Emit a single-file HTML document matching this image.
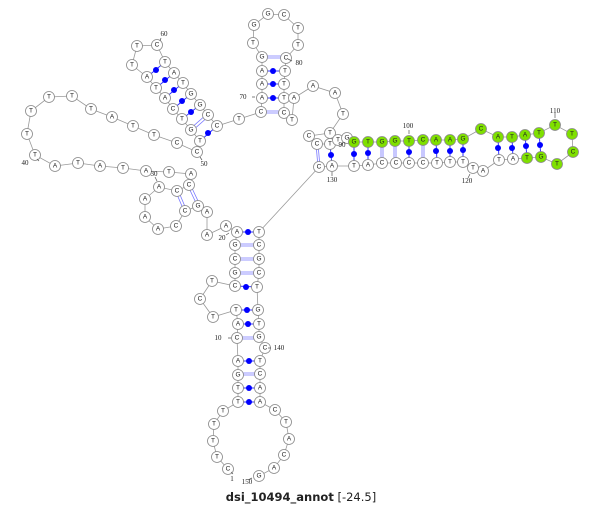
<!DOCTYPE html>
<html><head><meta charset="utf-8"><style>
html,body{margin:0;padding:0;background:#fff;}
svg{display:block}
.n{fill:#fff;stroke:#888;stroke-width:0.8}
.g{fill:#7fe000;stroke:#888;stroke-width:0.8}
text{font-family:"Liberation Sans","DejaVu Sans",sans-serif;font-size:6.5px;text-anchor:middle;dominant-baseline:central;fill:#222}
.l text{font-family:"Liberation Serif",serif;font-size:7px;fill:#222}
.p{stroke:#3333ff;stroke-width:1}
.d{stroke:#7777ff;stroke-width:0.8}
circle.n,circle.g{r:5.5px}
</style></head><body>
<svg width="600" height="508" viewBox="0 0 600 508" xmlns="http://www.w3.org/2000/svg">
<g fill="none" stroke="#999" stroke-width="0.8">
<polyline points="228,469 217,457 213,441 214,424 223,411 238,402 238,388 238,375 238,361 237,338 238,324 236,310 213,317 200,299 212,281 235,286 235,273 235,259 235,245 237,232 226,226 207,235 207,212 198,206 185,211 176,226 158,229 145,217 145,199 159,187 177,191 189,185 191,174 169,172 146,171 123,168 100,166 78,163 55,166 35,155 27,134 31,111 49,97 72,96 91,109 112,117 133,126 154,135 177,143 197,152 200,141 191,130 182,119 173,109 165,98 156,88 147,77 132,65 137,46 157,45 165,62 174,73 183,83 191,94 200,105 208,115 217,126 239,119 261,112 262,98 262,84 262,71 262,57 253,43 254,25 268,14 284,15 298,28 298,45 286,58 285,71 284,84 284,98 284,113 292,120 294,98 313,86 335,93 343,114 330,133 309,136 317,144 330,144 338,140 347,138 354,142 368,142 382,142 395,141 409,141 423,140 436,140 450,140 463,139 481,129 498,137 512,137 525,135 539,133 555,125 572,134 573,152 557,164 541,157 527,158 513,159 499,160 483,171 473,168 463,162 450,162 437,163 423,163 409,163 396,163 382,163 368,165 354,166 332,166 319,167 259,232 259,245 259,259 259,273 257,287 258,310 259,324 259,337 265,348 260,361 260,374 260,388 260,402 275,410 286,422 289,439 284,455 274,468 259,476"/>
</g>
<g class="p">
<line x1="237" y1="232" x2="259" y2="232"/><line x1="235" y1="286" x2="257" y2="287"/><line x1="236" y1="310" x2="258" y2="310"/><line x1="238" y1="324" x2="259" y2="324"/><line x1="238" y1="361" x2="260" y2="361"/><line x1="238" y1="388" x2="260" y2="388"/><line x1="238" y1="402" x2="260" y2="402"/>
<line x1="147" y1="77" x2="165" y2="62"/><line x1="156" y1="88" x2="174" y2="73"/><line x1="165" y1="98" x2="183" y2="83"/><line x1="173" y1="109" x2="191" y2="94"/><line x1="182" y1="119" x2="200" y2="105"/><line x1="200" y1="141" x2="217" y2="126"/>
<line x1="262" y1="98" x2="284" y2="98"/><line x1="262" y1="84" x2="284" y2="84"/><line x1="262" y1="71" x2="285" y2="71"/>
<line x1="330" y1="144" x2="332" y2="166"/><line x1="354" y1="142" x2="354" y2="166"/><line x1="368" y1="142" x2="368" y2="165"/><line x1="409" y1="141" x2="409" y2="163"/><line x1="436" y1="140" x2="437" y2="163"/><line x1="450" y1="140" x2="450" y2="162"/><line x1="463" y1="139" x2="463" y2="162"/><line x1="498" y1="137" x2="499" y2="160"/><line x1="512" y1="137" x2="513" y2="159"/><line x1="525" y1="135" x2="527" y2="158"/><line x1="539" y1="133" x2="541" y2="157"/>
</g>
<g class="d">
<path d="M235,244h24M235,246h24M235,258h24M235,260h24M235,272h24M235,274h24M237,337h22M237,339h22M238,373h22M238,375h22"/>
<path d="M190,129l17,-15M192,131l17,-15"/>
<path d="M261,111h23M261,113h23M262,56h24M262,58h24"/>
<path d="M176,192l8,19M178,190l8,19M188,186l9,19M190,184l9,19"/>
<path d="M316,144l2,23M318,144l2,23M381,142v21M383,142v21M394,141v22M396,141v22M422,140v23M424,140v23"/>
</g>
<g fill="#0000ff">
<circle cx="248" cy="232" r="3"/><circle cx="246" cy="287" r="3"/><circle cx="247" cy="310" r="3"/><circle cx="248" cy="324" r="3"/><circle cx="249" cy="361" r="3"/><circle cx="249" cy="388" r="3"/><circle cx="249" cy="402" r="3"/>
<circle cx="156" cy="70" r="3"/><circle cx="165" cy="80" r="3"/><circle cx="174" cy="90" r="3"/><circle cx="182" cy="101" r="3"/><circle cx="191" cy="112" r="3"/><circle cx="208" cy="133" r="3"/>
<circle cx="273" cy="98" r="3"/><circle cx="273" cy="84" r="3"/><circle cx="273" cy="71" r="3"/>
<circle cx="331" cy="155" r="3"/><circle cx="354" cy="154" r="3"/><circle cx="368" cy="153" r="3"/><circle cx="409" cy="152" r="3"/><circle cx="436" cy="151" r="3"/><circle cx="450" cy="151" r="3"/><circle cx="463" cy="150" r="3"/><circle cx="498" cy="148" r="3"/><circle cx="512" cy="148" r="3"/><circle cx="526" cy="146" r="3"/><circle cx="540" cy="145" r="3"/>
</g>
<g>
<circle class="n" cx="228" cy="469" r="5.5"/><text x="228" y="469">C</text>
<circle class="n" cx="217" cy="457" r="5.5"/><text x="217" y="457">T</text>
<circle class="n" cx="213" cy="441" r="5.5"/><text x="213" y="441">T</text>
<circle class="n" cx="214" cy="424" r="5.5"/><text x="214" y="424">T</text>
<circle class="n" cx="223" cy="411" r="5.5"/><text x="223" y="411">T</text>
<circle class="n" cx="238" cy="402" r="5.5"/><text x="238" y="402">T</text>
<circle class="n" cx="238" cy="388" r="5.5"/><text x="238" y="388">T</text>
<circle class="n" cx="238" cy="375" r="5.5"/><text x="238" y="375">G</text>
<circle class="n" cx="238" cy="361" r="5.5"/><text x="238" y="361">A</text>
<circle class="n" cx="237" cy="338" r="5.5"/><text x="237" y="338">C</text>
<circle class="n" cx="238" cy="324" r="5.5"/><text x="238" y="324">A</text>
<circle class="n" cx="236" cy="310" r="5.5"/><text x="236" y="310">T</text>
<circle class="n" cx="213" cy="317" r="5.5"/><text x="213" y="317">T</text>
<circle class="n" cx="200" cy="299" r="5.5"/><text x="200" y="299">C</text>
<circle class="n" cx="212" cy="281" r="5.5"/><text x="212" y="281">T</text>
<circle class="n" cx="235" cy="286" r="5.5"/><text x="235" y="286">C</text>
<circle class="n" cx="235" cy="273" r="5.5"/><text x="235" y="273">G</text>
<circle class="n" cx="235" cy="259" r="5.5"/><text x="235" y="259">C</text>
<circle class="n" cx="235" cy="245" r="5.5"/><text x="235" y="245">G</text>
<circle class="n" cx="237" cy="232" r="5.5"/><text x="237" y="232">A</text>
<circle class="n" cx="226" cy="226" r="5.5"/><text x="226" y="226">A</text>
<circle class="n" cx="207" cy="235" r="5.5"/><text x="207" y="235">A</text>
<circle class="n" cx="207" cy="212" r="5.5"/><text x="207" y="212">A</text>
<circle class="n" cx="198" cy="206" r="5.5"/><text x="198" y="206">G</text>
<circle class="n" cx="185" cy="211" r="5.5"/><text x="185" y="211">C</text>
<circle class="n" cx="176" cy="226" r="5.5"/><text x="176" y="226">C</text>
<circle class="n" cx="158" cy="229" r="5.5"/><text x="158" y="229">A</text>
<circle class="n" cx="145" cy="217" r="5.5"/><text x="145" y="217">A</text>
<circle class="n" cx="145" cy="199" r="5.5"/><text x="145" y="199">A</text>
<circle class="n" cx="159" cy="187" r="5.5"/><text x="159" y="187">A</text>
<circle class="n" cx="177" cy="191" r="5.5"/><text x="177" y="191">C</text>
<circle class="n" cx="189" cy="185" r="5.5"/><text x="189" y="185">C</text>
<circle class="n" cx="191" cy="174" r="5.5"/><text x="191" y="174">A</text>
<circle class="n" cx="169" cy="172" r="5.5"/><text x="169" y="172">T</text>
<circle class="n" cx="146" cy="171" r="5.5"/><text x="146" y="171">A</text>
<circle class="n" cx="123" cy="168" r="5.5"/><text x="123" y="168">T</text>
<circle class="n" cx="100" cy="166" r="5.5"/><text x="100" y="166">A</text>
<circle class="n" cx="78" cy="163" r="5.5"/><text x="78" y="163">T</text>
<circle class="n" cx="55" cy="166" r="5.5"/><text x="55" y="166">A</text>
<circle class="n" cx="35" cy="155" r="5.5"/><text x="35" y="155">T</text>
<circle class="n" cx="27" cy="134" r="5.5"/><text x="27" y="134">T</text>
<circle class="n" cx="31" cy="111" r="5.5"/><text x="31" y="111">T</text>
<circle class="n" cx="49" cy="97" r="5.5"/><text x="49" y="97">T</text>
<circle class="n" cx="72" cy="96" r="5.5"/><text x="72" y="96">T</text>
<circle class="n" cx="91" cy="109" r="5.5"/><text x="91" y="109">T</text>
<circle class="n" cx="112" cy="117" r="5.5"/><text x="112" y="117">A</text>
<circle class="n" cx="133" cy="126" r="5.5"/><text x="133" y="126">T</text>
<circle class="n" cx="154" cy="135" r="5.5"/><text x="154" y="135">T</text>
<circle class="n" cx="177" cy="143" r="5.5"/><text x="177" y="143">C</text>
<circle class="n" cx="197" cy="152" r="5.5"/><text x="197" y="152">C</text>
<circle class="n" cx="200" cy="141" r="5.5"/><text x="200" y="141">T</text>
<circle class="n" cx="191" cy="130" r="5.5"/><text x="191" y="130">G</text>
<circle class="n" cx="182" cy="119" r="5.5"/><text x="182" y="119">T</text>
<circle class="n" cx="173" cy="109" r="5.5"/><text x="173" y="109">C</text>
<circle class="n" cx="165" cy="98" r="5.5"/><text x="165" y="98">A</text>
<circle class="n" cx="156" cy="88" r="5.5"/><text x="156" y="88">T</text>
<circle class="n" cx="147" cy="77" r="5.5"/><text x="147" y="77">A</text>
<circle class="n" cx="132" cy="65" r="5.5"/><text x="132" y="65">T</text>
<circle class="n" cx="137" cy="46" r="5.5"/><text x="137" y="46">T</text>
<circle class="n" cx="157" cy="45" r="5.5"/><text x="157" y="45">C</text>
<circle class="n" cx="165" cy="62" r="5.5"/><text x="165" y="62">T</text>
<circle class="n" cx="174" cy="73" r="5.5"/><text x="174" y="73">A</text>
<circle class="n" cx="183" cy="83" r="5.5"/><text x="183" y="83">T</text>
<circle class="n" cx="191" cy="94" r="5.5"/><text x="191" y="94">G</text>
<circle class="n" cx="200" cy="105" r="5.5"/><text x="200" y="105">G</text>
<circle class="n" cx="208" cy="115" r="5.5"/><text x="208" y="115">C</text>
<circle class="n" cx="217" cy="126" r="5.5"/><text x="217" y="126">C</text>
<circle class="n" cx="239" cy="119" r="5.5"/><text x="239" y="119">T</text>
<circle class="n" cx="261" cy="112" r="5.5"/><text x="261" y="112">C</text>
<circle class="n" cx="262" cy="98" r="5.5"/><text x="262" y="98">A</text>
<circle class="n" cx="262" cy="84" r="5.5"/><text x="262" y="84">A</text>
<circle class="n" cx="262" cy="71" r="5.5"/><text x="262" y="71">A</text>
<circle class="n" cx="262" cy="57" r="5.5"/><text x="262" y="57">G</text>
<circle class="n" cx="253" cy="43" r="5.5"/><text x="253" y="43">T</text>
<circle class="n" cx="254" cy="25" r="5.5"/><text x="254" y="25">G</text>
<circle class="n" cx="268" cy="14" r="5.5"/><text x="268" y="14">G</text>
<circle class="n" cx="284" cy="15" r="5.5"/><text x="284" y="15">C</text>
<circle class="n" cx="298" cy="28" r="5.5"/><text x="298" y="28">T</text>
<circle class="n" cx="298" cy="45" r="5.5"/><text x="298" y="45">T</text>
<circle class="n" cx="286" cy="58" r="5.5"/><text x="286" y="58">C</text>
<circle class="n" cx="285" cy="71" r="5.5"/><text x="285" y="71">T</text>
<circle class="n" cx="284" cy="84" r="5.5"/><text x="284" y="84">T</text>
<circle class="n" cx="284" cy="98" r="5.5"/><text x="284" y="98">T</text>
<circle class="n" cx="284" cy="113" r="5.5"/><text x="284" y="113">C</text>
<circle class="n" cx="292" cy="120" r="5.5"/><text x="292" y="120">T</text>
<circle class="n" cx="294" cy="98" r="5.5"/><text x="294" y="98">A</text>
<circle class="n" cx="313" cy="86" r="5.5"/><text x="313" y="86">A</text>
<circle class="n" cx="335" cy="93" r="5.5"/><text x="335" y="93">A</text>
<circle class="n" cx="343" cy="114" r="5.5"/><text x="343" y="114">T</text>
<circle class="n" cx="330" cy="133" r="5.5"/><text x="330" y="133">T</text>
<circle class="n" cx="309" cy="136" r="5.5"/><text x="309" y="136">C</text>
<circle class="n" cx="317" cy="144" r="5.5"/><text x="317" y="144">C</text>
<circle class="n" cx="330" cy="144" r="5.5"/><text x="330" y="144">T</text>
<circle class="n" cx="338" cy="140" r="5.5"/><text x="338" y="140">T</text>
<circle class="n" cx="347" cy="138" r="5.5"/><text x="347" y="138">G</text>
<circle class="g" cx="354" cy="142" r="5.5"/><text x="354" y="142">G</text>
<circle class="g" cx="368" cy="142" r="5.5"/><text x="368" y="142">T</text>
<circle class="g" cx="382" cy="142" r="5.5"/><text x="382" y="142">G</text>
<circle class="g" cx="395" cy="141" r="5.5"/><text x="395" y="141">G</text>
<circle class="g" cx="409" cy="141" r="5.5"/><text x="409" y="141">T</text>
<circle class="g" cx="423" cy="140" r="5.5"/><text x="423" y="140">C</text>
<circle class="g" cx="436" cy="140" r="5.5"/><text x="436" y="140">A</text>
<circle class="g" cx="450" cy="140" r="5.5"/><text x="450" y="140">A</text>
<circle class="g" cx="463" cy="139" r="5.5"/><text x="463" y="139">G</text>
<circle class="g" cx="481" cy="129" r="5.5"/><text x="481" y="129">C</text>
<circle class="g" cx="498" cy="137" r="5.5"/><text x="498" y="137">A</text>
<circle class="g" cx="512" cy="137" r="5.5"/><text x="512" y="137">T</text>
<circle class="g" cx="525" cy="135" r="5.5"/><text x="525" y="135">A</text>
<circle class="g" cx="539" cy="133" r="5.5"/><text x="539" y="133">T</text>
<circle class="g" cx="555" cy="125" r="5.5"/><text x="555" y="125">T</text>
<circle class="g" cx="572" cy="134" r="5.5"/><text x="572" y="134">T</text>
<circle class="g" cx="573" cy="152" r="5.5"/><text x="573" y="152">C</text>
<circle class="g" cx="557" cy="164" r="5.5"/><text x="557" y="164">T</text>
<circle class="g" cx="541" cy="157" r="5.5"/><text x="541" y="157">G</text>
<circle class="g" cx="527" cy="158" r="5.5"/><text x="527" y="158">T</text>
<circle class="n" cx="513" cy="159" r="5.5"/><text x="513" y="159">A</text>
<circle class="n" cx="499" cy="160" r="5.5"/><text x="499" y="160">T</text>
<circle class="n" cx="483" cy="171" r="5.5"/><text x="483" y="171">A</text>
<circle class="n" cx="473" cy="168" r="5.5"/><text x="473" y="168">T</text>
<circle class="n" cx="463" cy="162" r="5.5"/><text x="463" y="162">T</text>
<circle class="n" cx="450" cy="162" r="5.5"/><text x="450" y="162">T</text>
<circle class="n" cx="437" cy="163" r="5.5"/><text x="437" y="163">T</text>
<circle class="n" cx="423" cy="163" r="5.5"/><text x="423" y="163">C</text>
<circle class="n" cx="409" cy="163" r="5.5"/><text x="409" y="163">C</text>
<circle class="n" cx="396" cy="163" r="5.5"/><text x="396" y="163">C</text>
<circle class="n" cx="382" cy="163" r="5.5"/><text x="382" y="163">C</text>
<circle class="n" cx="368" cy="165" r="5.5"/><text x="368" y="165">A</text>
<circle class="n" cx="354" cy="166" r="5.5"/><text x="354" y="166">T</text>
<circle class="n" cx="332" cy="166" r="5.5"/><text x="332" y="166">A</text>
<circle class="n" cx="319" cy="167" r="5.5"/><text x="319" y="167">C</text>
<circle class="n" cx="259" cy="232" r="5.5"/><text x="259" y="232">T</text>
<circle class="n" cx="259" cy="245" r="5.5"/><text x="259" y="245">C</text>
<circle class="n" cx="259" cy="259" r="5.5"/><text x="259" y="259">G</text>
<circle class="n" cx="259" cy="273" r="5.5"/><text x="259" y="273">C</text>
<circle class="n" cx="257" cy="287" r="5.5"/><text x="257" y="287">T</text>
<circle class="n" cx="258" cy="310" r="5.5"/><text x="258" y="310">G</text>
<circle class="n" cx="259" cy="324" r="5.5"/><text x="259" y="324">T</text>
<circle class="n" cx="259" cy="337" r="5.5"/><text x="259" y="337">G</text>
<circle class="n" cx="265" cy="348" r="5.5"/><text x="265" y="348">C</text>
<circle class="n" cx="260" cy="361" r="5.5"/><text x="260" y="361">T</text>
<circle class="n" cx="260" cy="374" r="5.5"/><text x="260" y="374">C</text>
<circle class="n" cx="260" cy="388" r="5.5"/><text x="260" y="388">A</text>
<circle class="n" cx="260" cy="402" r="5.5"/><text x="260" y="402">A</text>
<circle class="n" cx="275" cy="410" r="5.5"/><text x="275" y="410">C</text>
<circle class="n" cx="286" cy="422" r="5.5"/><text x="286" y="422">T</text>
<circle class="n" cx="289" cy="439" r="5.5"/><text x="289" y="439">A</text>
<circle class="n" cx="284" cy="455" r="5.5"/><text x="284" y="455">C</text>
<circle class="n" cx="274" cy="468" r="5.5"/><text x="274" y="468">A</text>
<circle class="n" cx="259" cy="476" r="5.5"/><text x="259" y="476">G</text>
</g>
<g stroke="#555" stroke-width="0.7">
<path d="M228,338h3M229,233l-3,2M252,97h3M292,61l-4,-2M409,130v4M555,113v5M468,178l2,-4M332,176v-4M268,348h3M161,38l-1,3M155,177l2,4M39,161l-2,-2M202,160l-2,-3M233,474l-2,-2M248,480l4,-2"/>
</g>
<g class="l">
<text x="218" y="338">10</text><text x="222" y="238">20</text><text x="154" y="174">30</text><text x="25" y="163">40</text><text x="204" y="164">50</text><text x="164" y="34">60</text><text x="243" y="97">70</text><text x="299" y="63">80</text><text x="342" y="145">90</text><text x="408" y="126">100</text><text x="555" y="111">110</text><text x="467" y="181">120</text><text x="332" y="180">130</text><text x="279" y="348">140</text><text x="232" y="479">1</text><text x="247" y="482">150</text>
</g>
<text x="301" y="497" style="font-size:11.5px;font-family:'DejaVu Sans',sans-serif"><tspan font-weight="bold">dsi_10494_annot</tspan> [-24.5]</text>
</svg>
</body></html>
